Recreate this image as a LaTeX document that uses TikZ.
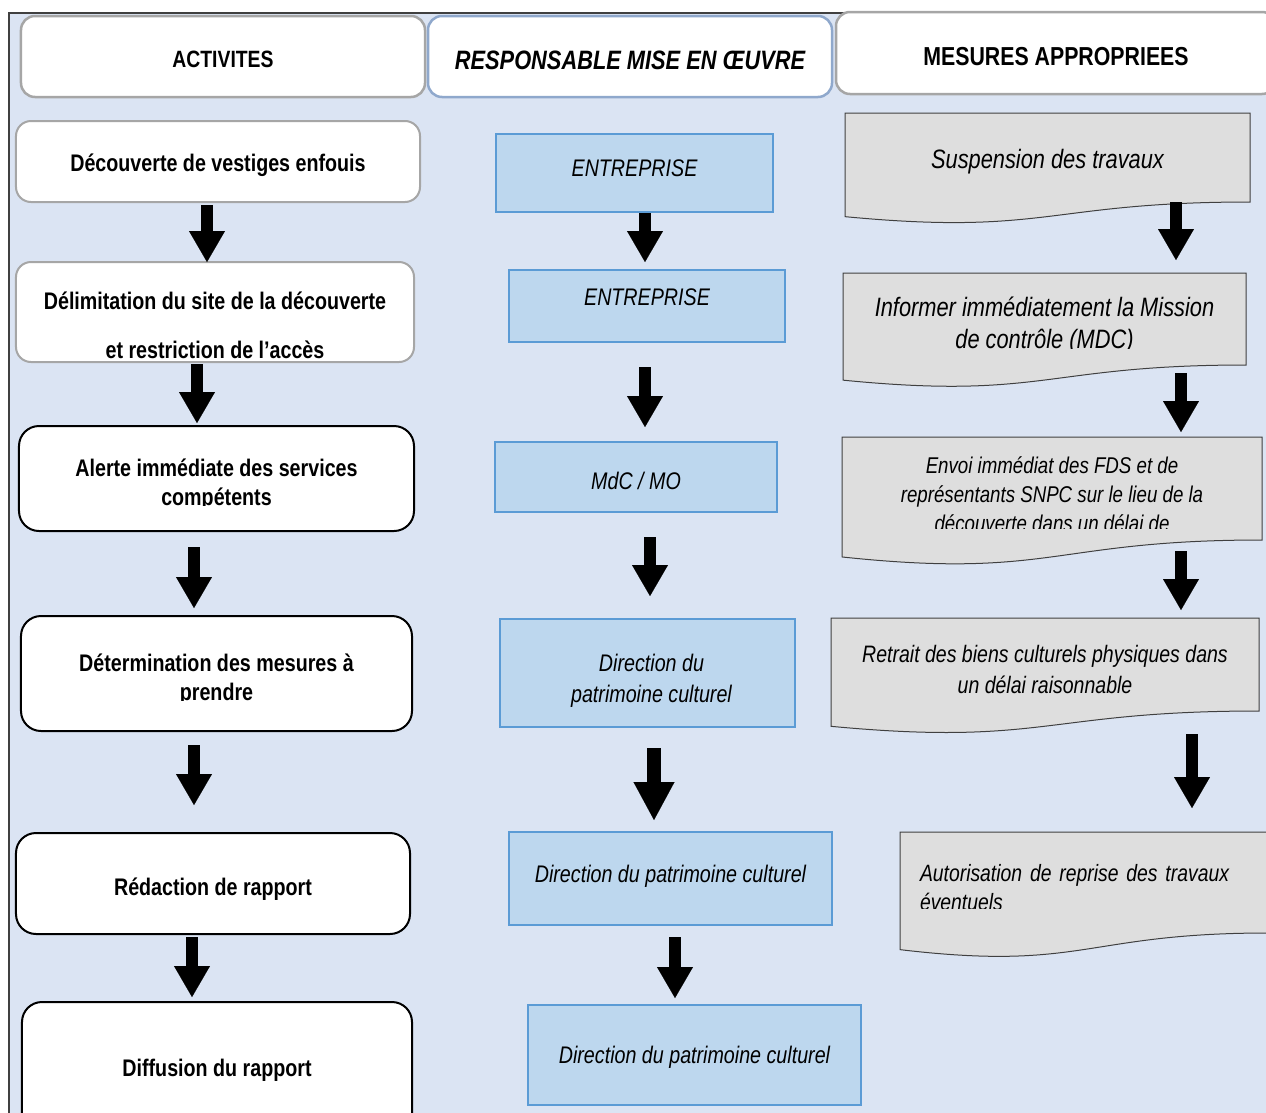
\documentclass[tikz,border=0pt]{standalone}
\usepackage{fontspec}
\setmainfont{Liberation Sans}[FakeStretch=0.82]
\usepackage{tikz}
\usetikzlibrary{arrows.meta,calc,backgrounds}
\definecolor{pagebg}{RGB}{219,228,243}
\definecolor{frameline}{RGB}{64,64,64}
\definecolor{softgray}{RGB}{166,166,166}
\definecolor{headblue}{RGB}{143,168,204}
\definecolor{respfill}{RGB}{189,215,238}
\definecolor{respline}{RGB}{91,155,213}
\definecolor{docfill}{RGB}{222,222,222}
\definecolor{docline}{RGB}{64,64,64}

\begin{document}
\begin{tikzpicture}[x=1bp,y=-1bp,
  headbox/.style={draw=softgray, line width=2.5bp, fill=white, rounded corners=14bp, inner sep=2bp, outer sep=0pt},
  headtext/.style={inner sep=0pt, font=\bfseries\fontsize{24bp}{29bp}\selectfont},
  actbox/.style={draw=black, line width=2bp, fill=white, rounded corners=20bp, inner sep=2bp, outer sep=0pt},
  acttext/.style={align=center, inner sep=0pt, font=\bfseries\fontsize{24bp}{29bp}\selectfont},
  respbox/.style={draw=respline, line width=2bp, fill=respfill, inner sep=2bp, outer sep=0pt},
  resptext/.style={align=center, inner sep=0pt, font=\itshape\fontsize{24bp}{31bp}\selectfont},
  docbox/.style={inner sep=0pt, outer sep=0pt},
  doctext/.style={align=center, inner sep=0pt, font=\itshape\fontsize{24bp}{30bp}\selectfont},
  docshape/.style={draw=docline, fill=docfill, line width=1bp},
  blockarrow/.style={line width=12bp, -{Triangle[width=36bp,length=31bp,line width=0.1bp]}},
  bigblockarrow/.style={line width=14bp, -{Triangle[width=41bp,length=38bp,line width=0.1bp]}},
]
\useasboundingbox (0,0) rectangle (1266,1113);
%%
\draw[frameline, line width=2bp] (9,1113) -- (9,13) -- (1266,13);
  % Node: headers
\node[headbox, minimum width=404bp, minimum height=81bp,
  label={[headtext, yshift=-3bp, font=\bfseries\fontsize{23.6bp}{28bp}\selectfont]center:ACTIVITES}] (hact) at (223,56.5) {};
\node[headbox, draw=headblue, minimum width=404bp, minimum height=81bp,
  label={[headtext, yshift=-4bp, font=\bfseries\itshape\fontsize{26.6bp}{31bp}\selectfont]center:RESPONSABLE MISE EN ŒUVRE}] (hresp) at (630,56.5) {};
\node[headbox, minimum width=440bp, minimum height=82bp,
  label={[headtext, yshift=-4bp, font=\bfseries\fontsize{26bp}{31bp}\selectfont]center:MESURES APPROPRIEES}] (hmes) at (1056,53) {};
  % Node: activites
\node[actbox, draw=softgray, rounded corners=15bp, minimum width=404bp, minimum height=81bp,
  label={[acttext, yshift=-4bp]center:Découverte de vestiges enfouis}] (act1) at (218,161.5) {};
\node[actbox, draw=softgray, rounded corners=15bp, minimum width=398bp, minimum height=100bp,
  label={[acttext, yshift=-13.5bp]center:{Délimitation du site de la découverte\\[20bp]et restriction de l’accès}}] (act2) at (215,312) {};
\node[actbox, minimum width=395bp, minimum height=105bp] (act3) at (216.5,478.5) {};
\node[actbox, minimum width=391bp, minimum height=115bp] (act4) at (216.5,673.5) {};
\node[actbox, minimum width=394bp, minimum height=101bp,
  label={[acttext, yshift=-6bp]center:Rédaction de rapport}] (act5) at (213,883.5) {};
\node[actbox, minimum width=390bp, minimum height=132bp,
  label={[acttext, yshift=-2bp]center:Diffusion du rapport}] (act6) at (217,1068) {};
  % Node: responsables
\node[respbox, minimum width=277bp, minimum height=78bp,
  label={[resptext, yshift=5bp]center:ENTREPRISE}] (resp1) at (634.5,173) {};
\node[respbox, minimum width=276bp, minimum height=72bp,
  label={[resptext, yshift=9bp]center:ENTREPRISE}] (resp2) at (647,306) {};
\node[respbox, minimum width=282bp, minimum height=70bp,
  label={[resptext, yshift=-4bp]center:MdC / MO}] (resp3) at (636,477) {};
\node[respbox, minimum width=295bp, minimum height=108bp,
  label={[resptext, xshift=4bp, yshift=-8bp]center:{Direction du\\patrimoine culturel}}] (resp4) at (647.5,673) {};
\node[respbox, minimum width=323bp, minimum height=93bp,
  label={[resptext, yshift=2bp]center:Direction du patrimoine culturel}] (resp5) at (670.5,878.5) {};
\node[respbox, minimum width=333bp, minimum height=100bp,
  label={[resptext, yshift=-2bp]center:Direction du patrimoine culturel}] (resp6) at (694.5,1055) {};
  % Node: mesures
\node[docbox, minimum width=405bp, minimum height=89bp,
  label={[doctext, yshift=-4bp, font=\itshape\fontsize{26.6bp}{32bp}\selectfont]center:Suspension des travaux}] (mes1) at (1047.5,157.5) {};
\node[docbox, minimum width=403bp, minimum height=92bp] (mes2) at (1044.5,319) {};
\node[docbox, minimum width=420bp, minimum height=103bp] (mes3) at (1052,488.5) {};
\node[docbox, minimum width=428bp, minimum height=93bp,
  label={[doctext, yshift=-5bp, font=\itshape\fontsize{23.8bp}{31bp}\selectfont]center:{Retrait des biens culturels physiques dans\\un délai raisonnable}}] (mes4) at (1045,664.5) {};
\node[docbox, minimum width=368bp, minimum height=101bp] (mes5) at (1084,882.5) {};
\begin{scope}[on background layer]
  \fill[pagebg] (9,13) rectangle (1266,1113);
  \foreach \n in {mes1,mes2,mes3,mes4,mes5}
    \filldraw[docshape] (\n.north west) -- (\n.north east) -- (\n.south east)
      .. controls (\n.south) and ($(\n.south)!-0.381!(\n.north)$) .. ($(\n.south west)!-0.1646!(\n.north west)$) -- cycle;
\end{scope}
  % Node: texts cut off at the bottom of their box
\begin{scope}
  \clip (act3.north west) rectangle ([yshift=-505bp]act3.east |- 0,0);
  \node[acttext] (act3txt) at ([yshift=-6bp]act3.center) {Alerte immédiate des services\\compétents};
\end{scope}
\begin{scope}
  \clip (act4.north west) rectangle ([yshift=-700bp]act4.east |- 0,0);
  \node[acttext] (act4txt) at ([yshift=-6bp]act4.center) {Détermination des mesures à\\prendre};
\end{scope}
\begin{scope}
  \clip (mes2.north west) rectangle ([yshift=-348bp]mes2.east |- 0,0);
  \node[doctext, font=\itshape\fontsize{26.6bp}{32bp}\selectfont] (mes2txt) at ([yshift=-6bp]mes2.center) {Informer immédiatement la Mission\\de contrôle (MDC)};
\end{scope}
\begin{scope}
  \clip (mes3.north west) rectangle ([yshift=-528bp]mes3.east |- 0,0);
  \node[doctext, font=\itshape\fontsize{22.8bp}{29bp}\selectfont] (mes3txt) at ([yshift=-6bp]mes3.center) {Envoi immédiat des FDS et de\\représentants SNPC sur le lieu de la\\découverte dans un délai de};
\end{scope}
\begin{scope}
  \clip (mes5.north west) rectangle ([yshift=-908bp]mes5.east |- 0,0);
  \node[doctext, align=left, text width=328bp, font=\itshape\fontsize{23.6bp}{29bp}\selectfont] (mes5txt) at ([yshift=-5bp]mes5.center) {Autorisation de reprise des travaux\\éventuels};
\end{scope}
  % Edge: act1 -> act2 -> ... -> act6
\draw[blockarrow, shorten <=3bp] ([xshift=-11bp]act1.south) -- ([xshift=-11bp]act1.south |- act2.north);
\draw[blockarrow, shorten <=2bp, shorten >=3bp] ([xshift=-18bp]act2.south) -- ([xshift=-18bp]act2.south |- act3.north);
\draw[blockarrow, shorten <=16bp, shorten >=8bp] ([xshift=-22.5bp]act3.south) -- ([xshift=-22.5bp]act3.south |- act4.north);
\draw[blockarrow, shorten <=14bp, shorten >=28bp] ([xshift=-22.5bp]act4.south) -- ([xshift=-22.5bp]act4.south |- act5.north);
\draw[blockarrow, shorten <=3bp, shorten >=5bp] ([xshift=-21bp]act5.south) -- ([xshift=-21bp]act5.south |- act6.north);
  % Edge: resp1 -> resp2 -> ... -> resp6
\draw[blockarrow, shorten <=1bp, shorten >=8bp] ([xshift=10.5bp]resp1.south) -- ([xshift=10.5bp]resp1.south |- resp2.north);
\draw[blockarrow, shorten <=25bp, shorten >=15bp] ([xshift=-2bp]resp2.south) -- ([xshift=-2bp]resp2.south |- resp3.north);
\draw[blockarrow, shorten <=25bp, shorten >=23bp] ([xshift=14bp]resp3.south) -- ([xshift=14bp]resp3.south |- resp4.north);
\draw[bigblockarrow, shorten <=21bp, shorten >=12bp] ([xshift=6.5bp]resp4.south) -- ([xshift=6.5bp]resp4.south |- resp5.north);
\draw[blockarrow, shorten <=12bp, shorten >=7bp] ([xshift=4.5bp]resp5.south) -- ([xshift=4.5bp]resp5.south |- resp6.north);
  % Edge: mes1 -> mes2 -> ... -> mes5
\draw[blockarrow, shorten >=13bp] ([xshift=128.5bp]mes1.south) -- ([xshift=128.5bp]mes1.south |- mes2.north);
\draw[blockarrow, shorten <=8bp, shorten >=5bp] ([xshift=136.5bp]mes2.south) -- ([xshift=136.5bp]mes2.south |- mes3.north);
\draw[blockarrow, shorten <=11bp, shorten >=8bp] ([xshift=129bp]mes3.south) -- ([xshift=129bp]mes3.south |- mes4.north);
\draw[blockarrow, shorten <=23bp, shorten >=24bp] ([xshift=147bp]mes4.south) -- ([xshift=147bp]mes4.south |- mes5.north);
%
\end{tikzpicture}
\end{document}
